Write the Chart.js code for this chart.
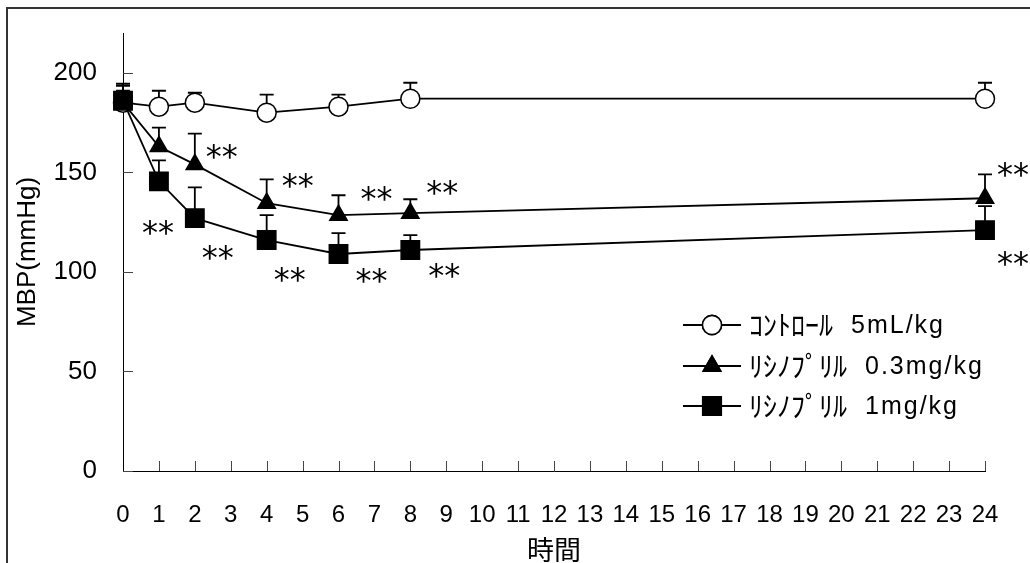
<!DOCTYPE html>
<html>
<head>
<meta charset="utf-8">
<script src="https://cdn.jsdelivr.net/npm/chart.js@4/dist/chart.umd.min.js"></script>
<style>
  body { margin: 0; background: #fff; }
  canvas { display: block; }
</style>
</head>
<body>
<canvas id="mbpChart" width="1030" height="563"></canvas>
<script>
'use strict';

// time points (h)
const hours = [0, 1, 2, 4, 6, 8, 24];

// control 5mL/kg
const controlMean = [185, 183, 185, 180, 183, 187, 187];
const controlUpper = [194.5, 191, 190, 189, 189, 195, 195];

// lisinopril 0.3mg/kg
const lowMean = [185, 163, 154, 134.5, 128.5, 129.5, 137];
const lowUpper = [193.5, 172.5, 169.5, 146.5, 138.5, 136.5, 149];

// lisinopril 1mg/kg
const highMean = [186, 145.5, 127, 116, 109, 111, 121];
const highUpper = [191, 156, 142.5, 128.5, 119.5, 118.5, 133];

// significance marks
const lowSig = ['', '', '**', '**', '**', '**', '**'];
const highSig = ['', '**', '**', '**', '**', '**', '**'];

const seriesNames = ['ｺﾝﾄﾛｰﾙ 5mL/kg', 'ﾘｼﾉﾌﾟﾘﾙ 0.3mg/kg', 'ﾘｼﾉﾌﾟﾘﾙ 1mg/kg'];
const yTicks = [0, 50, 100, 150, 200];

const toPoints = (vals) => hours.map((h, i) => ({ x: h, y: vals[i] }));

// where the ** sits relative to its point (px)
const lowSigOffset = [null, null, [27, -13], [31, -23], [38, -22], [32, -26], [28, -29]];
const highSigOffset = [null, [-1, 46], [23, 34], [23, 34], [33, 22], [34, 20], [28, 28]];

const frame = {
  id: 'frame',
  beforeDraw(chart) {
    const ctx = chart.ctx;
    ctx.save();
    ctx.fillStyle = '#fff';
    ctx.fillRect(0, 0, chart.width, chart.height);
    ctx.fillStyle = '#333';
    ctx.fillRect(6, 7, 2, chart.height);
    ctx.fillRect(6, 7, chart.width, 2);
    ctx.restore();
  }
};

const axisTicks = {
  id: 'axisTicks',
  afterDraw(chart) {
    const ctx = chart.ctx;
    const xs = chart.scales.x, ys = chart.scales.y;
    const area = chart.chartArea;
    ctx.save();
    ctx.strokeStyle = '#444';
    ctx.lineWidth = 1;
    ctx.beginPath();
    yTicks.forEach(v => {
      const py = Math.round(ys.getPixelForValue(v)) + 0.5;
      ctx.moveTo(area.left, py);
      ctx.lineTo(area.left + 10, py);
    });
    for (let h = 1; h <= 24; h++) {
      const px = Math.round(xs.getPixelForValue(h)) + 0.5;
      ctx.moveTo(px, area.bottom);
      ctx.lineTo(px, area.bottom - 10);
    }
    ctx.stroke();
    ctx.restore();
  }
};

const errorBars = {
  id: 'errorBars',
  beforeDatasetsDraw(chart) {
    const ctx = chart.ctx;
    const xs = chart.scales.x, ys = chart.scales.y;
    const groups = [[controlMean, controlUpper], [lowMean, lowUpper], [highMean, highUpper]];
    ctx.save();
    ctx.strokeStyle = '#000';
    ctx.lineWidth = 1.8;
    groups.forEach(([mean, upper]) => {
      hours.forEach((h, i) => {
        const px = xs.getPixelForValue(h);
        const py = ys.getPixelForValue(mean[i]);
        const pu = ys.getPixelForValue(upper[i]);
        ctx.beginPath();
        ctx.moveTo(px, py);
        ctx.lineTo(px, pu);
        ctx.moveTo(px - 7, pu);
        ctx.lineTo(px + 7, pu);
        ctx.stroke();
      });
    });
    ctx.restore();
  }
};

const sigMarks = {
  id: 'sigMarks',
  afterDatasetsDraw(chart) {
    const ctx = chart.ctx;
    const xs = chart.scales.x, ys = chart.scales.y;
    ctx.save();
    ctx.fillStyle = '#000';
    ctx.font = '32px "DejaVu Sans"';
    ctx.textAlign = 'center';
    ctx.textBaseline = 'alphabetic';
    const m = ctx.measureText('**');
    const inkMid = (m.actualBoundingBoxAscent - m.actualBoundingBoxDescent) / 2;
    const put = (mean, sig, offs) => {
      hours.forEach((h, i) => {
        if (!sig[i]) return;
        const px = xs.getPixelForValue(h) + offs[i][0];
        const py = ys.getPixelForValue(mean[i]) + offs[i][1];
        ctx.fillText(sig[i], px, py + inkMid);
      });
    };
    put(lowMean, lowSig, lowSigOffset);
    put(highMean, highSig, highSigOffset);
    ctx.restore();
  }
};

const legendBox = {
  id: 'legendBox',
  afterDraw(chart) {
    const ctx = chart.ctx;
    const rows = [325, 366, 406];
    ctx.save();
    chart.data.datasets.slice().sort((a, b) => b.order - a.order).forEach((ds, i) => {
      const y = rows[i];
      ctx.strokeStyle = '#000';
      ctx.lineWidth = 1.8;
      ctx.beginPath();
      ctx.moveTo(683, y);
      ctx.lineTo(741, y);
      ctx.stroke();
      Chart.helpers.drawPoint(ctx, {
        pointStyle: ds.pointStyle,
        radius: ds.pointRadius,
        borderWidth: ds.pointBorderWidth,
        rotation: 0
      }, 712, y);
      ctx.fillStyle = ds.pointBackgroundColor;
      ctx.strokeStyle = '#000';
      ctx.lineWidth = ds.pointBorderWidth;
      ctx.fill();
      ctx.stroke();

      // name part (half-width kana) then dose part
      const cut = ds.label.indexOf(' ');
      const name = ds.label.slice(0, cut);
      const dose = ds.label.slice(cut + 1);
      ctx.fillStyle = '#000';
      ctx.textAlign = 'left';
      ctx.textBaseline = 'middle';
      ctx.font = '28px "Noto Sans CJK JP"';
      ctx.fillText(name, 749, y);
      const w = ctx.measureText(name).width;
      ctx.font = '25px "Liberation Sans", Arial';
      ctx.letterSpacing = '2px';
      ctx.fillText(dose, 749 + w + 18, y + 1);
      ctx.letterSpacing = '0px';
    });
    ctx.restore();
  }
};

const common = {
  borderColor: '#000',
  borderWidth: 1.8,
  pointBorderColor: '#000',
  pointBorderWidth: 1.5,
  tension: 0,
  clip: false
};

new Chart(document.getElementById('mbpChart'), {
  type: 'line',
  data: {
    datasets: [
      Object.assign({}, common, {
        label: seriesNames[0], data: toPoints(controlMean), order: 3,
        pointStyle: 'circle', pointRadius: 9.5, pointBackgroundColor: '#fff'
      }),
      Object.assign({}, common, {
        label: seriesNames[1], data: toPoints(lowMean), order: 2,
        pointStyle: 'triangle', pointRadius: 10, pointBackgroundColor: '#000'
      }),
      Object.assign({}, common, {
        label: seriesNames[2], data: toPoints(highMean), order: 1,
        pointStyle: 'rect', pointRadius: 13, pointBackgroundColor: '#000'
      })
    ]
  },
  options: {
    responsive: false,
    animation: false,
    layout: { padding: { top: 33, right: 45, left: 0, bottom: 0 } },
    plugins: {
      legend: { display: false },
      tooltip: { enabled: false }
    },
    scales: {
      x: {
        type: 'linear', min: 0, max: 24,
        afterFit(s) { s.height = 92; s.paddingLeft = 0; s.paddingRight = 0; },
        ticks: {
          stepSize: 1, padding: 30, color: '#000', maxRotation: 0, autoSkip: false,
          font: { family: '"Liberation Sans", Arial', size: 24 }
        },
        grid: { drawOnChartArea: false, drawTicks: false },
        border: { color: '#000', width: 1 },
        title: {
          display: true, text: '時間', color: '#000',
          font: { family: '"Noto Sans CJK JP"', size: 27, lineHeight: 1 },
          padding: { top: 0, bottom: 0 }
        }
      },
      y: {
        min: 0, max: 220,
        afterFit(s) { s.width = 123; s.paddingTop = 0; s.paddingBottom = 0; },
        afterBuildTicks(s) { s.ticks = yTicks.map(v => ({ value: v })); },
        ticks: {
          padding: 26, color: '#000',
          font: { family: '"Liberation Sans", Arial', size: 26 }
        },
        grid: { drawOnChartArea: false, drawTicks: false },
        border: { color: '#000', width: 1 },
        title: {
          display: true, text: 'MBP(mmHg)', color: '#000',
          font: { family: '"Liberation Sans", Arial', size: 26, lineHeight: 1.2 },
          padding: { top: 12, bottom: 0 }
        }
      }
    }
  },
  plugins: [frame, axisTicks, errorBars, sigMarks, legendBox]
});
</script>
</body>
</html>
